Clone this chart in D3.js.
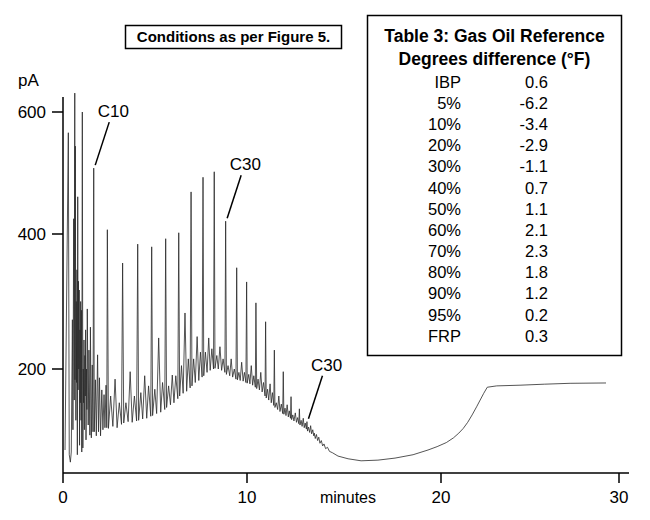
<!DOCTYPE html>
<meta charset="utf-8">
<style>
body { margin: 0; background: #fff; }
text { font-family: "Liberation Sans", Arial, Helvetica, sans-serif; fill: #000; }
</style>
<body>
<script src="https://d3js.org/d3.v7.min.js"></script>
<script>

// chromatogram trace, [minutes, pA]
var frontEnd = [
  [0.11,80],[0.29,566],[0.34,73],[0.40,62],[0.45,77],[0.51,273],[0.54,110],[0.58,425],
  [0.61,154],[0.64,631],[0.65,184],[0.67,544],[0.70,124],[0.72,300],[0.74,180],[0.76,347],
  [0.78,73],[0.80,461],[0.82,169],[0.84,330],[0.86,200],[0.88,317],[0.90,87],[0.92,258],
  [0.94,150],[0.96,300],[0.98,124],[1.00,287],[1.02,77],[1.05,600],[1.08,83],[1.10,200],
  [1.12,150],[1.14,243],[1.16,110],[1.19,220],[1.21,160],[1.23,258],[1.25,95],[1.28,200],
  [1.30,140],[1.32,289],[1.37,117],[1.41,228],[1.46,102],[1.49,262],[1.54,98],[1.59,206],
  [1.63,107],[1.67,508],[1.70,107],[1.76,184],[1.81,101],[1.88,221],[1.93,107],[1.98,187],
  [2.04,101],[2.11,169],[2.17,110],[2.23,162],[2.28,113],[2.34,176],[2.38,113]
];

var mainElution = [
  [2.41,407],[2.47,112],[2.59,160],[2.71,115],[2.83,185],[2.94,113],[3.06,150],[3.18,118],
  [3.24,357],[3.30,120],[3.42,150],[3.54,122],[3.65,196],[3.76,121],[3.88,160],[4.00,123],
  [4.06,385],[4.11,124],[4.23,165],[4.33,126],[4.44,190],[4.55,127],[4.65,175],[4.77,130],
  [4.82,381],[4.87,131],[4.99,170],[5.09,134],[5.20,246],[5.31,136],[5.41,180],[5.53,140],
  [5.58,393],[5.63,143],[5.74,175],[5.84,147],[5.94,191],[6.03,150],[6.13,190],[6.24,156],
  [6.29,402],[6.34,160],[6.44,205],[6.53,164],[6.63,283],[6.72,167],[6.81,215],[6.91,172],
  [6.96,469],[7.01,175],[7.10,215],[7.19,180],[7.29,248],[7.38,183],[7.47,225],[7.56,188],
  [7.61,493],[7.65,190],[7.74,225],[7.83,195],[7.92,246],[8.00,198],[8.09,230],[8.18,200],
  [8.22,502],[8.26,201],[8.36,220],[8.44,200],[8.53,233],[8.62,198],[8.70,215],[8.80,195],
  [8.84,421],[8.88,192],[8.97,205],[9.06,190],[9.14,215],[9.22,188],[9.31,200],[9.40,185],
  [9.44,350],[9.48,184],[9.56,195],[9.63,183],[9.71,210],[9.79,182],[9.86,195],[9.94,180],
  [9.98,329],[10.01,179],[10.09,192],[10.15,178],[10.22,205],[10.29,176],[10.35,190],[10.43,173],
  [10.46,298],[10.50,171],[10.57,185],[10.64,169],[10.71,195],[10.78,166],[10.85,180],[10.93,160],
  [10.96,270],[10.99,157],[11.06,170],[11.12,154],[11.19,178],[11.25,150],[11.31,165],[11.38,146],
  [11.41,228],[11.44,143],[11.51,150],[11.58,140],[11.64,160],[11.70,137],[11.77,148],[11.84,134],
  [11.87,196],[11.90,133],[11.96,142],[12.01,131],[12.07,147],[12.13,129],[12.18,138],[12.24,127],
  [12.27,159],[12.30,125],[12.36,132],[12.42,123],[12.49,135],[12.55,121],[12.61,128],[12.67,119],
  [12.70,141],[12.73,117],[12.79,124],[12.84,115],[12.90,127],[12.95,113],[13.00,120],[13.06,111],
  [13.09,122],[13.12,108],[13.17,114],[13.23,106],[13.28,116],[13.33,104],[13.39,110],[13.44,101],
  [13.47,105]
];

var bakeOut = [
  [13.52,97],[13.58,103],[13.64,94],[13.70,99],[13.76,90],[13.83,94],[13.90,86],[13.97,89],
  [14.05,82],[14.15,84],[14.25,78],[14.40,76],[14.69,71],[15.21,67],[15.88,64],[16.75,65],
  [17.63,68],[18.56,73],[19.33,80],[19.8,85],[20.3,91],[20.7,98],[21.0,105],[21.25,112],
  [21.5,121],[21.75,132],[22.0,144],[22.2,154],[22.4,164],[22.6,173],[23.13,175],[24.44,176],
  [25.8,177.5],[27.25,178.8],[29.27,179.3]
];

// labelled peaks
var peakNames = ["C10", "C30", "C30"];
var peakTimes = [1.67, 8.84, 13.09];
var peakValues = [508, 421, 122];

var xTicks = [0, 10, 20, 30];
var yTicks = [200, 400, 600];

var tableTitle = ["Table 3: Gas Oil Reference", "Degrees difference (\u00b0F)"];
var tableCuts = ["IBP", "5%", "10%", "20%", "30%", "40%", "50%", "60%", "70%", "80%", "90%", "95%", "FRP"];
var tableDiffs = ["0.6", "-6.2", "-3.4", "-2.9", "-1.1", "0.7", "1.1", "2.1", "2.3", "1.8", "1.2", "0.2", "0.3"];

var note = "Conditions as per Figure 5.";

var trace = frontEnd.concat(mainElution, bakeOut);

var svg = d3.select("body").append("svg")
    .attr("width", 650)
    .attr("height", 520);

// the printed axes are not quite evenly spaced, so piecewise scales
var x = d3.scaleLinear().domain([0, 10, 20, 30]).range([63, 247, 441, 619]);
var y = d3.scaleLinear().domain([0, 200, 400, 600]).range([504, 369, 234, 112]);

var line = d3.line()
    .x(function(d) { return x(d[0]); })
    .y(function(d) { return y(d[1]); });

svg.append("path")
    .datum(trace)
    .attr("d", line)
    .style("fill", "none")
    .style("stroke", "#2a2a2a")
    .style("stroke-width", 0.8)
    .style("stroke-linejoin", "miter");

// axes
var baseY = 473, topY = 97;

var xAxis = svg.append("g");
xAxis.append("line")
    .attr("x1", x(0)).attr("x2", 629)
    .attr("y1", baseY).attr("y2", baseY)
    .style("stroke", "#000").style("stroke-width", 1.5);
xAxis.selectAll("line.tick")
    .data(xTicks)
  .enter().append("line")
    .attr("class", "tick")
    .attr("x1", x).attr("x2", x)
    .attr("y1", baseY).attr("y2", baseY + 10)
    .style("stroke", "#000").style("stroke-width", 1.5);
xAxis.selectAll("text")
    .data(xTicks)
  .enter().append("text")
    .attr("x", x)
    .attr("y", 503)
    .attr("text-anchor", "middle")
    .style("font-size", "17px")
    .text(function(d) { return d; });
xAxis.append("text")
    .attr("x", 348).attr("y", 503)
    .attr("text-anchor", "middle")
    .style("font-size", "16px")
    .text("minutes");

var yAxis = svg.append("g");
yAxis.append("line")
    .attr("x1", x(0)).attr("x2", x(0))
    .attr("y1", topY).attr("y2", baseY)
    .style("stroke", "#000").style("stroke-width", 1.5);
yAxis.selectAll("line.tick")
    .data(yTicks)
  .enter().append("line")
    .attr("class", "tick")
    .attr("x1", x(0) - 11).attr("x2", x(0))
    .attr("y1", y).attr("y2", y)
    .style("stroke", "#000").style("stroke-width", 1.5);
yAxis.selectAll("text")
    .data(yTicks)
  .enter().append("text")
    .attr("x", 46)
    .attr("y", y)
    .attr("dy", "0.36em")
    .attr("text-anchor", "end")
    .style("font-size", "17px")
    .text(function(d) { return d; });
yAxis.append("text")
    .attr("x", 18).attr("y", 86)
    .style("font-size", "17px")
    .text("pA");

// peak labels with leader lines
var marks = svg.selectAll("g.peak")
    .data(peakNames.map(function(n, i) { return {name: n, t: peakTimes[i], v: peakValues[i]}; }))
  .enter().append("g")
    .attr("class", "peak")
    .attr("transform", function(d) { return "translate(" + x(d.t) + "," + y(d.v) + ")"; });
marks.append("line")
    .attr("x1", 1.5).attr("y1", -3)
    .attr("x2", 15.5).attr("y2", -46)
    .style("stroke", "#000").style("stroke-width", 1.5);
marks.append("text")
    .attr("x", 4).attr("y", -51)
    .style("font-size", "17px")
    .text(function(d) { return d.name; });

// conditions note
svg.append("rect")
    .attr("x", 125.5).attr("y", 25.5)
    .attr("width", 216).attr("height", 23)
    .style("fill", "#fff").style("stroke", "#000").style("stroke-width", 1.5);
svg.append("text")
    .attr("x", 233.5).attr("y", 42)
    .attr("text-anchor", "middle")
    .style("font-size", "15px").style("font-weight", "bold")
    .text(note);

// table box
var tbl = svg.append("g");
tbl.append("rect")
    .attr("x", 367.5).attr("y", 15.5)
    .attr("width", 254).attr("height", 340)
    .style("fill", "#fff").style("stroke", "#000").style("stroke-width", 1.5);
tbl.selectAll("text.title")
    .data(tableTitle)
  .enter().append("text")
    .attr("class", "title")
    .attr("x", 494.5)
    .attr("y", function(d, i) { return 42 + i * 23; })
    .attr("text-anchor", "middle")
    .style("font-size", "17.5px").style("font-weight", "bold")
    .text(function(d) { return d; });
tbl.selectAll("text.cut")
    .data(tableCuts)
  .enter().append("text")
    .attr("class", "cut")
    .attr("x", 461)
    .attr("y", function(d, i) { return 87.7 + i * 21.17; })
    .attr("text-anchor", "end")
    .style("font-size", "16.5px")
    .text(function(d) { return d; });
tbl.selectAll("text.diff")
    .data(tableDiffs)
  .enter().append("text")
    .attr("class", "diff")
    .attr("x", 548)
    .attr("y", function(d, i) { return 87.7 + i * 21.17; })
    .attr("text-anchor", "end")
    .style("font-size", "16.5px")
    .text(function(d) { return d; });

</script>
